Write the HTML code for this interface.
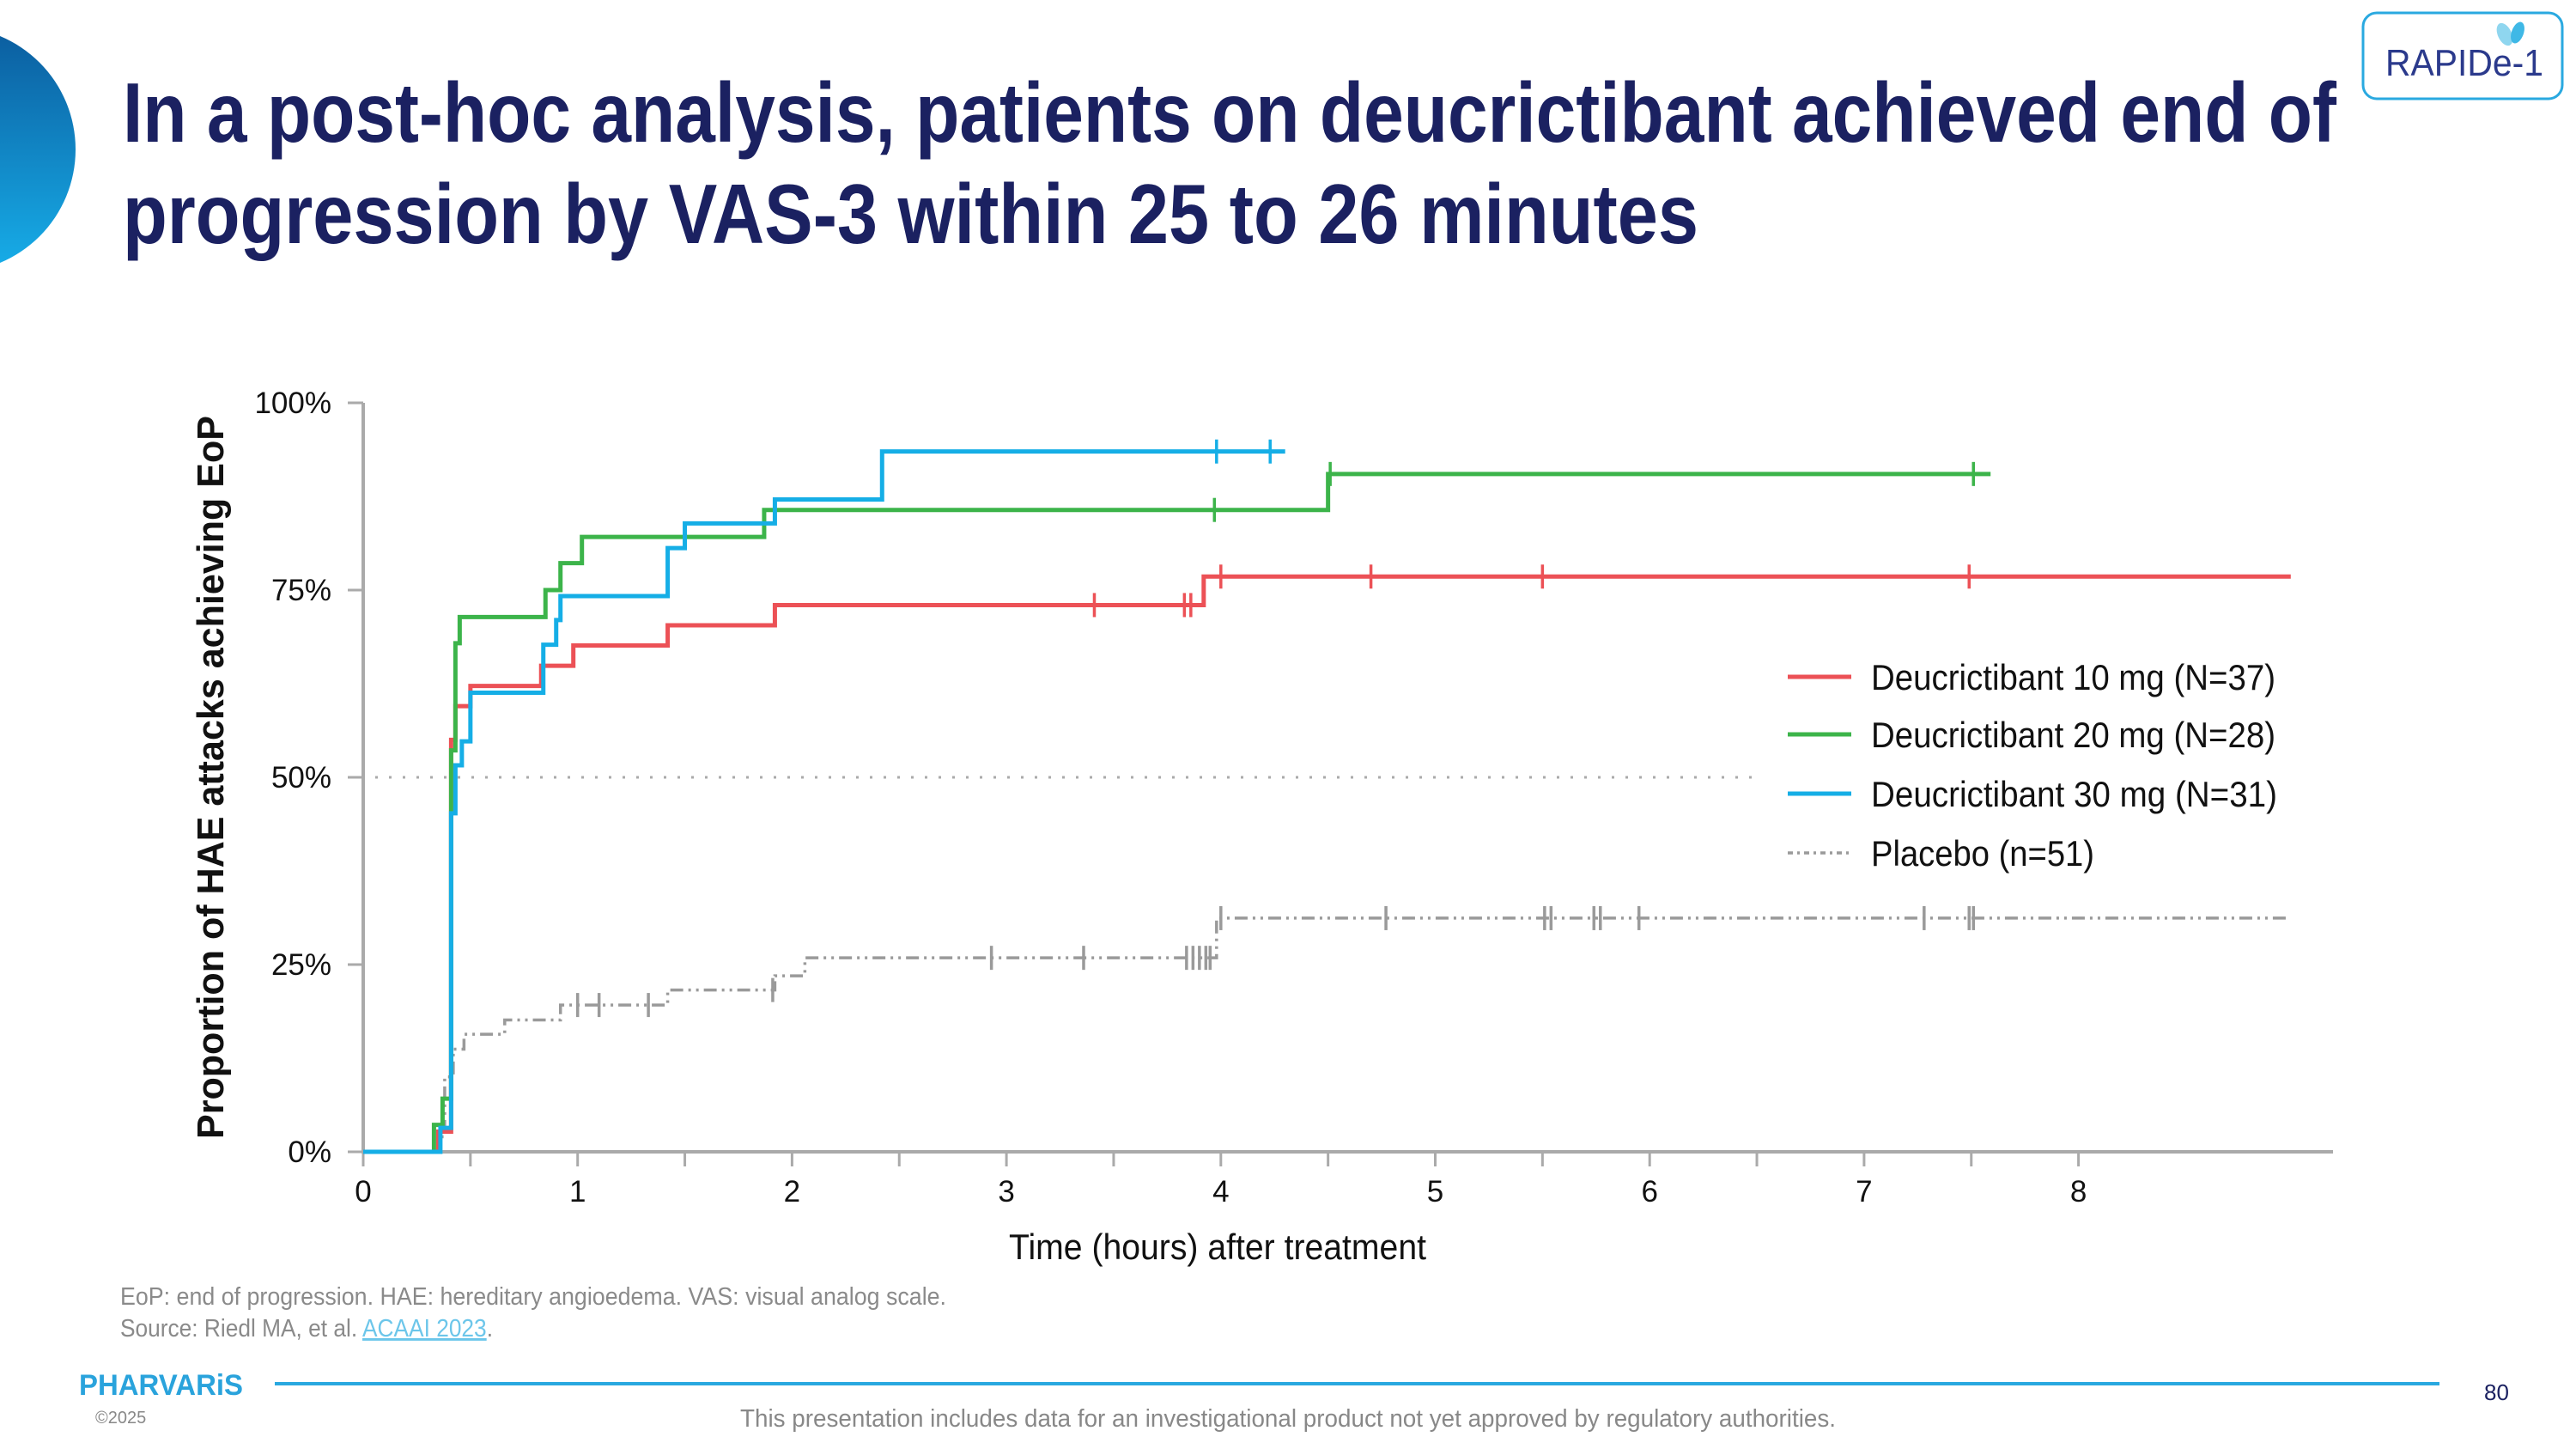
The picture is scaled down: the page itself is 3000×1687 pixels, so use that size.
<!DOCTYPE html>
<html><head><meta charset="utf-8">
<style>
html,body{margin:0;padding:0;background:#fff;}
svg{display:block;}
text{font-family:"Liberation Sans",sans-serif;}
</style></head>
<body>
<svg id="page" width="3000" height="1687" viewBox="0 0 3000 1687" xmlns="http://www.w3.org/2000/svg">
<defs>
<linearGradient id="arcg" x1="0" y1="0" x2="0" y2="1">
<stop offset="0" stop-color="#0b5c9e"/><stop offset="1" stop-color="#17aee9"/>
</linearGradient>
</defs>
<circle cx="-55" cy="174" r="143" fill="url(#arcg)"/>
<g fill="#1b2161" font-weight="bold" font-size="98">
<text x="143" y="165" textLength="2578" lengthAdjust="spacingAndGlyphs">In a post-hoc analysis, patients on deucrictibant achieved end of</text>
<text x="143" y="283" textLength="1835" lengthAdjust="spacingAndGlyphs">progression by VAS-3 within 25 to 26 minutes</text>
</g>
<g>
<rect x="2752" y="15" width="232" height="100" rx="16" fill="#fff" stroke="#2aa9e0" stroke-width="3"/>
<ellipse cx="2917" cy="40" rx="8" ry="14" fill="#8fd6ef" transform="rotate(-25 2917 40)"/>
<ellipse cx="2932" cy="38" rx="7" ry="13" fill="#3fb8e6" transform="rotate(20 2932 38)"/>
<text x="2778" y="88" font-size="44" fill="#2b3a8c" textLength="184" lengthAdjust="spacingAndGlyphs">RAPIDe-1</text>
</g>
<g id="chart"></g>
<g font-size="29" fill="#8a8a8a">
<text x="140" y="1519" textLength="962" lengthAdjust="spacingAndGlyphs">EoP: end of progression. HAE: hereditary angioedema. VAS: visual analog scale.</text>
<text x="140" y="1556" textLength="434" lengthAdjust="spacingAndGlyphs">Source: Riedl MA, et al. <tspan fill="#6cc6ea" text-decoration="underline">ACAAI 2023</tspan>.</text>
</g>
<g>
<text x="92" y="1624" font-size="34" font-weight="bold" fill="#2aa3dc" textLength="191" lengthAdjust="spacingAndGlyphs">PHARVARiS</text>
<rect x="320" y="1609" width="2521" height="4" fill="#29a8e0"/>
<text x="2893" y="1630" font-size="26" fill="#1b2161">80</text>
<text x="111" y="1657" font-size="20" fill="#888">©2025</text>
<text x="1500" y="1661" font-size="29" fill="#888" text-anchor="middle" textLength="1276" lengthAdjust="spacingAndGlyphs">This presentation includes data for an investigational product not yet approved by regulatory authorities.</text>
</g>
</svg>
<script>
// ---- data ----
const xTicks = [0,1,2,3,4,5,6,7,8];
const yTicks = [0,25,50,75,100];
const yTickLabels = ["0%","25%","50%","75%","100%"];
const seriesNames = ["Deucrictibant 10 mg (N=37)","Deucrictibant 20 mg (N=28)","Deucrictibant 30 mg (N=31)","Placebo (n=51)"];
// step times (hours) and values (%) after each step
const t10 = [0,0.35,0.41,0.43,0.5,0.83,0.98,1.42,1.92,3.92];
const v10 = [0,2.7,55,59.5,62.2,64.9,67.6,70.3,73.0,76.8];
const c10 = [3.41,3.83,3.86,4.0,4.70,5.50,7.49];
const end10 = 8.99;
const t20 = [0,0.33,0.37,0.41,0.43,0.45,0.85,0.92,1.02,1.87,4.50];
const v20 = [0,3.6,7.1,53.6,67.9,71.4,75.0,78.6,82.1,85.7,90.5];
const c20 = [3.97,4.51,7.51];
const end20 = 7.59;
const t30 = [0,0.36,0.41,0.43,0.46,0.5,0.84,0.9,0.92,1.42,1.5,1.92,2.42];
const v30 = [0,3.2,45.2,51.6,54.8,61.3,67.7,71.0,74.2,80.6,83.9,87.1,93.5];
const c30 = [3.98,4.23];
const end30 = 4.30;
const tPb = [0,0.36,0.38,0.42,0.47,0.66,0.92,1.42,1.92,2.06,3.98];
const vPb = [0,2,10,13.7,15.7,17.6,19.6,21.6,23.5,25.9,31.2];
const cPb = [1.0,1.1,1.33,1.91,2.93,3.36,3.84,3.87,3.9,3.93,3.95,4.0,4.77,5.51,5.54,5.74,5.77,5.95,7.28,7.49,7.51];
const endPb = 8.98;

// ---- axes ----
const X0=423, PXH=249.7, Y0=1341, Y100=469;
const xs = h => X0 + h*PXH;
const ys = p => Y0 - (Y0-Y100)*p/100;
const NS="http://www.w3.org/2000/svg";
const chart=document.getElementById('chart');
function mk(tag, attrs, parent){const e=document.createElementNS(NS,tag);for(const k in attrs)e.setAttribute(k,attrs[k]);(parent||chart).appendChild(e);return e;}

// reference line 50%
const ref=mk('line',{x1:437,x2:2040,y1:ys(50),y2:ys(50),stroke:'#aaa','stroke-width':3,'stroke-dasharray':'3 13'});



// axes
const yAxis=mk('line',{x1:X0,x2:X0,y1:Y100,y2:Y0+2,stroke:'#aaa','stroke-width':4});


const xAxis=mk('line',{x1:X0,x2:2717,y1:Y0,y2:Y0,stroke:'#aaa','stroke-width':4});


yTicks.forEach((v,i)=>{
  const t=mk('line',{x1:X0-18,x2:X0,y1:ys(v),y2:ys(v),stroke:'#aaa','stroke-width':3});
  
  
  const l=mk('text',{x:386,y:ys(v)+12,'font-size':35,'text-anchor':'end',fill:'#111'});
  l.textContent=yTickLabels[i];
  
  
});
for(let h=0;h<=8;h+=0.5){
  const t=mk('line',{x1:xs(h),x2:xs(h),y1:Y0,y2:Y0+17,stroke:'#aaa','stroke-width':3});
  
  
}
xTicks.forEach(h=>{
  const l=mk('text',{x:xs(h),y:1399,'font-size':35,'text-anchor':'middle',fill:'#111'});
  l.textContent=String(h);
  
  
});
const xt=mk('text',{x:1418,y:1466,'font-size':42,'text-anchor':'middle',fill:'#111',textLength:486,lengthAdjust:'spacingAndGlyphs'});
xt.textContent='Time (hours) after treatment';


const yt=mk('text',{x:0,y:0,'font-size':44,'font-weight':'bold','text-anchor':'middle',fill:'#111',textLength:842,lengthAdjust:'spacingAndGlyphs',transform:'translate(260,905) rotate(-90)'});
yt.textContent='Proportion of HAE attacks achieving  EoP';



// series
function stepVal(ts,vs,t){let v=vs[0];for(let i=0;i<ts.length;i++){if(ts[i]<=t)v=vs[i];}return v;}
function drawSeries(ts,vs,cs,end,color,dash,width,name){
  const g=mk('g',{});
  
  
  let d='M'+xs(ts[0])+' '+ys(vs[0]);
  for(let i=1;i<ts.length;i++){d+=' H'+xs(ts[i])+' V'+ys(vs[i]);}
  d+=' H'+xs(end);
  const p=mk('path',{d:d,fill:'none',stroke:color,'stroke-width':width,'stroke-dasharray':dash||'none'},g);
  
  
  cs.forEach(c=>{
    const y=ys(stepVal(ts,vs,c));
    const m=mk('line',{x1:xs(c),x2:xs(c),y1:y-14,y2:y+14,stroke:color,'stroke-width':3.5},g);
    
    
  });
}
const DASH='15 6 3 6 3 6';
drawSeries(tPb,vPb,cPb,endPb,'#9a9a9a',DASH,3.5,'series-placebo');
drawSeries(t10,v10,c10,end10,'#ec5156',null,5,'series-10mg');
drawSeries(t20,v20,c20,end20,'#3cb44a',null,5,'series-20mg');
drawSeries(t30,v30,c30,end30,'#15aee6',null,5,'series-30mg');

// legend
const legColors=['#ec5156','#3cb44a','#15aee6','#9a9a9a'];
const legY=[788,855,924,993];
const legW=[471,471,473,260];
seriesNames.forEach((n,i)=>{
  const g=mk('g',{});
  
  
  mk('line',{x1:2082,x2:2156,y1:legY[i],y2:legY[i],stroke:legColors[i],'stroke-width':i==3?3.5:5,'stroke-dasharray':i==3?'6 5 3 5':'none'},g);
  const t=mk('text',{x:2179,y:legY[i]+15,'font-size':42,fill:'#111',textLength:legW[i],lengthAdjust:'spacingAndGlyphs'},g);
  t.textContent=n;
});
</script>
</body></html>
